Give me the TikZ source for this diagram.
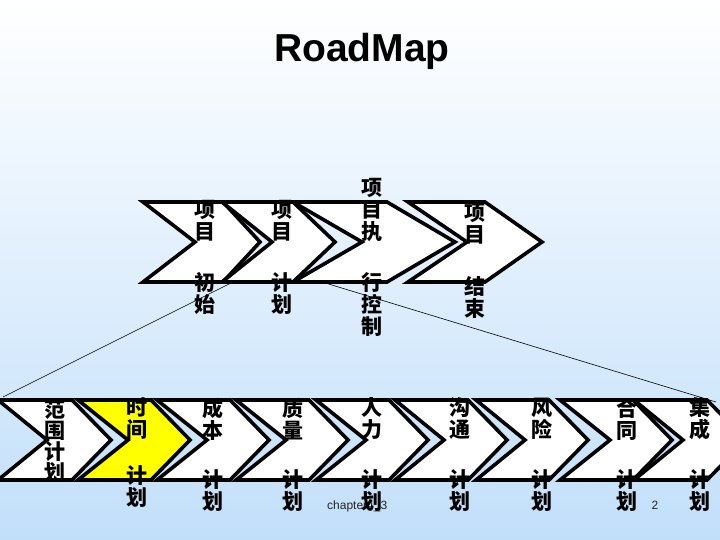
\documentclass[tikz,border=0pt]{standalone}
\usepackage{fontspec}
\setmainfont{Liberation Sans}
\newfontfamily\cjk{Noto Sans CJK SC}
\definecolor{bgblue}{RGB}{194,223,250}
\definecolor{chevyellow}{RGB}{255,255,0}
\tikzset{
  chev/.style={draw=black, line width=3.6pt, line join=miter},
  zh/.style={font=\cjk\bfseries\fontsize{21}{22}\selectfont, align=center, inner sep=0pt},
  zhb/.style={font=\cjk\bfseries\fontsize{21}{21}\selectfont, align=center, inner sep=0pt},
  thin/.style={draw=black, line width=0.6pt},
  small/.style={font=\fontsize{12}{12}\selectfont, text=black!85, inner sep=0pt}
}
% #1 L, #2 T, #3 notch depth, #4 top-right offset, #5 tip offset, #6 fill
\newcommand\mychev[6]{\draw[chev,fill=#6] (#1,#2) -- ++(#4,0) -- ++({#5-#4},40) -- ++({#4-#5},40) -- ++(-#4,0) -- ++(#3,-40) -- cycle;}
\begin{document}
\begin{tikzpicture}[x=1pt,y=-1pt]
\useasboundingbox (0,0) rectangle (720,540);
\shade[top color=white, bottom color=bgblue] (0,0) rectangle (720,540);

% zoom lines
\coordinate (lA) at (231,283);
\coordinate (lB) at (3,397);
\coordinate (rA) at (322,282);
\coordinate (rB) at (716,402);
\draw[thin] (lA) -- (lB);
\draw[thin] (rA) -- (rB);

% top row
\mychev{143}{202}{52}{80}{117}{white}
\mychev{222}{202}{50}{71}{113}{white}
\mychev{293}{202}{69}{94}{162}{white}
\mychev{408}{202}{59}{77}{134}{white}

% bottom row
\mychev{-2}{400}{49}{74}{113}{white}
\mychev{78}{400}{50}{73}{112}{chevyellow}
\mychev{157}{400}{50}{73}{112}{white}
\mychev{236}{400}{50}{73}{112}{white}
\mychev{316}{400}{50}{73}{112}{white}
\mychev{395}{400}{49}{73}{112}{white}
\mychev{476}{400}{49}{73}{112}{white}
\mychev{560}{400}{50}{73}{112}{white}
\mychev{634}{400}{49}{73}{112}{white}

% title
\node[anchor=base, inner sep=0pt, font=\bfseries\fontsize{39}{39}\selectfont] (title) at (362,62) {RoadMap};

% top texts
\node[zh] (t1a) at (205,221) {项\\目};
\node[zh] (t1b) at (205,293.5) {初\\始};
\node[zh] (t2a) at (282,221) {项\\目};
\node[zh] (t2b) at (282,293.5) {计\\划};
\node[zh] (t3a) at (372,210) {项\\目\\执};
\node[zh] (t3b) at (372,305) {行\\控\\制};
\node[zh] (t4a) at (475,224) {项\\目};
\node[zh] (t4b) at (475,297.5) {结\\束};

% footer texts
\node[small, anchor=base west] (chap) at (327,509) {chapter4\_3};
\node[small, anchor=base] (pg) at (655,509) {2};

% bottom texts
\node[zhb] (b1) at (55,441.5) {范\\围\\计\\划};
\node[zh] (b2a) at (137,419) {时\\间};
\node[zh] (b2b) at (137,487) {计\\划};
\node[zh] (b3a) at (213,419) {成\\本};
\node[zh] (b3b) at (213,491) {计\\划};
\node[zh] (b4a) at (293,419) {质\\量};
\node[zh] (b4b) at (293,491) {计\\划};
\node[zh] (b5a) at (372,419) {人\\力};
\node[zh] (b5b) at (372,491) {计\\划};
\node[zh] (b6a) at (460,419) {沟\\通};
\node[zh] (b6b) at (460,491) {计\\划};
\node[zh] (b7a) at (542,419) {风\\险};
\node[zh] (b7b) at (542,491) {计\\划};
\node[zh] (b8a) at (627,419) {合\\同};
\node[zh] (b8b) at (627,491) {计\\划};
\node[zh] (b9a) at (700,419) {集\\成};
\node[zh] (b9b) at (700,491) {计\\划};
\end{tikzpicture}
\end{document}
